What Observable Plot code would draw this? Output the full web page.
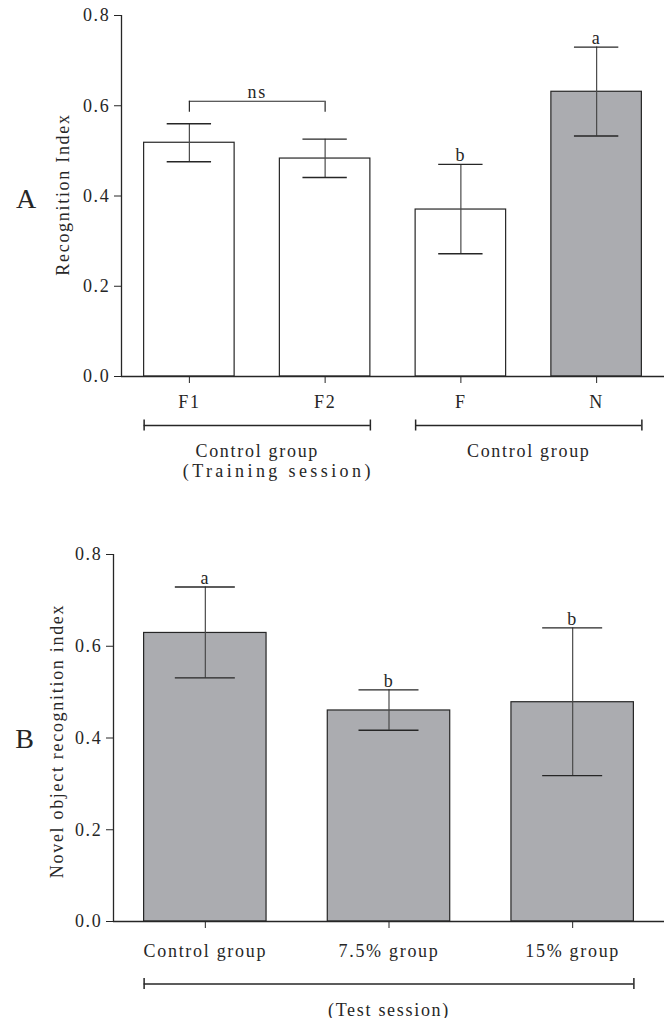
<!DOCTYPE html>
<html>
<head>
<meta charset="utf-8">
<script src="https://cdn.jsdelivr.net/npm/d3@7"></script>
<script src="https://cdn.jsdelivr.net/npm/@observablehq/plot@0.6"></script>
<style>
html, body { margin: 0; padding: 0; background: #fff; overflow: hidden; }
#chart svg { display: block; }
</style>
</head>
<body>
<div id="chart"></div>
<script>
// ---- Panel A data ----
const catsA = ["F1", "F2", "F", "N"];
const meanA = [0.518, 0.483, 0.370, 0.631];
const upperA = [0.560, 0.526, 0.470, 0.730];
const lowerA = [0.476, 0.441, 0.272, 0.533];
const lettersA = ["", "", "b", "a"];
const greyCatsA = ["N"];
const groupsA = [
  {from: "F1", to: "F2", label: "Control group", sub: "(Training session)"},
  {from: "F", to: "N", label: "Control group", sub: ""}
];
const nsA = [{from: "F1", to: "F2", label: "ns", level: 0.61}];
const titleA = "Recognition Index";

// ---- Panel B data ----
const catsB = ["Control group", "7.5% group", "15% group"];
const meanB = [0.629, 0.460, 0.478];
const upperB = [0.729, 0.505, 0.640];
const lowerB = [0.531, 0.417, 0.318];
const lettersB = ["a", "b", "b"];
const greyCatsB = ["Control group", "7.5% group", "15% group"];
const groupsB = [{from: "Control group", to: "15% group", label: "(Test session)", sub: ""}];
const nsB = [];
const titleB = "Novel object recognition index";

const yTicks = [0, 0.2, 0.4, 0.6, 0.8];

// ---- styling ----
const W = 667;
const FONT = "'Liberation Serif', 'Times New Roman', serif";
const GREY = "#abacb0";
const INK = "#262626";
const STEM = "#4a4a4a";

function panel(cfg) {
  const {cats, mean, upper, lower, letters, grey, groups, ns, title, tag,
         height, mt, mb, ml, mr, tickPad, bracketDy, labelDy, subDy, subDx,
         titleDx, titleDy, tagDx, tagDy} = cfg;
  const n = cats.length;
  const padIn = 1 / 3;
  const step = (W - ml - mr) / n;
  const bw = step * (1 - padIn);
  const capInset = bw * 0.255;
  const rows = cats.map((c, i) => ({cat: c, mean: mean[i], hi: upper[i], lo: lower[i], letter: letters[i]}));
  const half = g => (cats.indexOf(g.to) - cats.indexOf(g.from)) * step / 2;
  const yMax = yTicks[yTicks.length - 1];

  const marks = [
    Plot.barY(rows, {x: "cat", y: "mean", fill: d => grey.includes(d.cat) ? GREY : "white", stroke: INK, strokeWidth: 1.2}),
    Plot.ruleX(rows, {x: "cat", y1: "lo", y2: "hi", stroke: STEM, strokeWidth: 1.2}),
    Plot.tickY(rows, {x: "cat", y: "hi", stroke: INK, strokeWidth: 1.4, insetLeft: capInset, insetRight: capInset}),
    Plot.tickY(rows, {x: "cat", y: "lo", stroke: INK, strokeWidth: 1.4, insetLeft: capInset, insetRight: capInset}),
    Plot.text(rows.filter(d => d.letter), {x: "cat", y: "hi", text: "letter", lineAnchor: "bottom", dy: -3, fontSize: 18, fill: INK}),
    Plot.ruleY([0], {stroke: INK, strokeWidth: 1.3}),
    Plot.ruleX([cats[0]], {x: d => d, y1: 0, y2: yMax, dx: -step / 2, stroke: INK, strokeWidth: 1.3}),
    Plot.axisY(yTicks, {tickFormat: d3.format(".1f"), tickSize: 7, tickPadding: 4, label: null, fontSize: 18, stroke: INK, fill: INK}),
    Plot.axisX({tickSize: 7, tickPadding: tickPad, label: null, fontSize: 18, stroke: INK, fill: INK}),
    Plot.text([title], {text: d => d, frameAnchor: "left", textAnchor: "middle", lineAnchor: "middle", rotate: -90, dx: titleDx, dy: titleDy, fontSize: 18, fill: INK}),
    Plot.text([tag], {text: d => d, frameAnchor: "left", textAnchor: "middle", lineAnchor: "middle", dx: tagDx, dy: tagDy, fontSize: 28, fill: INK}),
    // group brackets under the axis
    Plot.ruleY(groups, {x1: "from", x2: "to", y: 0, dy: bracketDy, stroke: INK, strokeWidth: 1.3}),
    Plot.ruleX(groups, {x: "from", y1: 0, y2: 0, dy: bracketDy, dx: -bw / 2, insetTop: -5.5, insetBottom: -5.5, stroke: INK, strokeWidth: 1.5}),
    Plot.ruleX(groups, {x: "to", y1: 0, y2: 0, dy: bracketDy, dx: bw / 2, insetTop: -5.5, insetBottom: -5.5, stroke: INK, strokeWidth: 1.5}),
    ...groups.map(g => Plot.text([g], {x: "from", y: 0, text: "label", dx: half(g), dy: labelDy, lineAnchor: "bottom", fontSize: 18, fill: INK})),
    ...groups.filter(g => g.sub).map(g => Plot.text([g], {x: "from", y: 0, text: "sub", dx: half(g) + subDx, dy: subDy, lineAnchor: "bottom", fontSize: 18, fill: INK})),
    // significance bracket
    Plot.ruleY(ns, {x1: "from", x2: "to", y: "level", insetLeft: bw / 2, insetRight: bw / 2, stroke: INK, strokeWidth: 1.2}),
    Plot.ruleX(ns, {x: "from", y1: "level", y2: "level", insetBottom: -11, stroke: INK, strokeWidth: 1.2}),
    Plot.ruleX(ns, {x: "to", y1: "level", y2: "level", insetBottom: -11, stroke: INK, strokeWidth: 1.2}),
    ...ns.map(g => Plot.text([g], {x: "from", y: "level", text: "label", dx: half(g), dy: -3, lineAnchor: "bottom", fontSize: 18, fill: INK}))
  ];

  const svg = Plot.plot({
    width: W, height,
    marginTop: mt, marginBottom: mb, marginLeft: ml, marginRight: mr,
    style: `font-family:${FONT};font-size:18px;letter-spacing:1.7px;color:${INK};background:white;overflow:visible`,
    x: {type: "band", domain: cats, paddingInner: padIn, paddingOuter: padIn / 2, align: 0.5, round: false},
    y: {domain: [0, yMax]},
    marks
  });
  // wider tracking on the session sub-labels, as in the original figure
  const subs = new Set(groups.map(g => g.sub).filter(Boolean));
  d3.select(svg).selectAll("text").filter(function () { return subs.has(this.textContent); })
    .style("letter-spacing", "3.4px");
  return svg;
}

const chart = document.getElementById("chart");
chart.append(panel({
  cats: catsA, mean: meanA, upper: upperA, lower: lowerA, letters: lettersA, grey: greyCatsA,
  groups: groupsA, ns: nsA, title: titleA, tag: "A",
  height: 490, mt: 15, mb: 114, ml: 121, mr: 3, tickPad: 12,
  bracketDy: 49, labelDy: 80, subDy: 100, subDx: 21,
  titleDx: -58.5, titleDy: -1.5, tagDx: -94.5, tagDy: 3.5
}));
chart.append(panel({
  cats: catsB, mean: meanB, upper: upperB, lower: lowerB, letters: lettersB, grey: greyCatsB,
  groups: groupsB, ns: nsB, title: titleB, tag: "B",
  height: 528, mt: 64, mb: 97, ml: 113, mr: 3, tickPad: 16,
  bracketDy: 62.5, labelDy: 94, subDy: 0, subDx: 0,
  titleDx: -56, titleDy: 3, tagDx: -88, tagDy: 1.5
}));
</script>
</body>
</html>
